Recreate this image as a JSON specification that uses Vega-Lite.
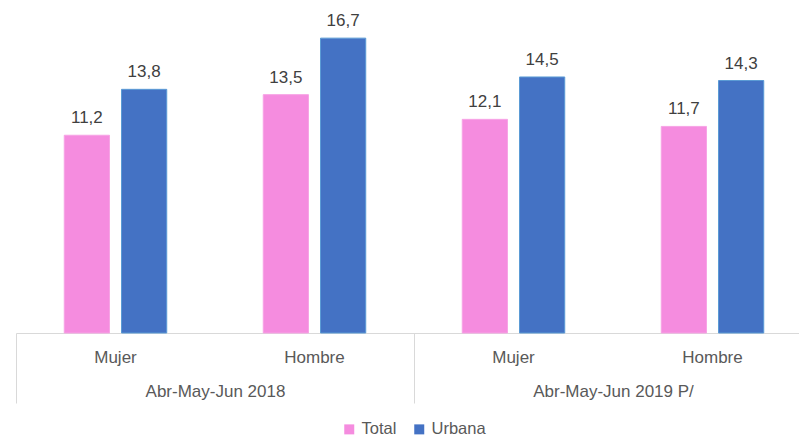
{
  "$schema": "https://vega.github.io/schema/vega-lite/v6.json",
  "width": 796,
  "height": 333,
  "padding": {"left": 15, "top": 0, "right": 0, "bottom": 0},
  "background": "white",
  "config": {
    "view": {"stroke": null},
    "font": "Liberation Sans",
    "locale": {"number": {"decimal": ",", "thousands": ".", "grouping": [3], "currency": ["", ""]}}
  },
  "data": {
    "values": [
      {"periodo": "Abr-May-Jun 2018", "grupo": "Abr-May-Jun 2018|Mujer", "serie": "Total", "valor": 11.2},
      {"periodo": "Abr-May-Jun 2018", "grupo": "Abr-May-Jun 2018|Mujer", "serie": "Urbana", "valor": 13.8},
      {"periodo": "Abr-May-Jun 2018", "grupo": "Abr-May-Jun 2018|Hombre", "serie": "Total", "valor": 13.5},
      {"periodo": "Abr-May-Jun 2018", "grupo": "Abr-May-Jun 2018|Hombre", "serie": "Urbana", "valor": 16.7},
      {"periodo": "Abr-May-Jun 2019 P/", "grupo": "Abr-May-Jun 2019 P/|Mujer", "serie": "Total", "valor": 12.1},
      {"periodo": "Abr-May-Jun 2019 P/", "grupo": "Abr-May-Jun 2019 P/|Mujer", "serie": "Urbana", "valor": 14.5},
      {"periodo": "Abr-May-Jun 2019 P/", "grupo": "Abr-May-Jun 2019 P/|Hombre", "serie": "Total", "valor": 11.7},
      {"periodo": "Abr-May-Jun 2019 P/", "grupo": "Abr-May-Jun 2019 P/|Hombre", "serie": "Urbana", "valor": 14.3}
    ]
  },
  "layer": [
    {
      "encoding": {
        "x": {
          "field": "grupo", "type": "nominal", "sort": null,
          "scale": {"paddingInner": 0.485, "paddingOuter": 0.2425},
          "axis": {
            "orient": "bottom",
            "title": null, "labelExpr": "split(datum.label, '|')[1]", "ticks": false,
            "domainColor": "#d9d9d9", "labelFontSize": 17, "labelColor": "#595959",
            "labelPadding": 16, "labelAngle": 0
          }
        },
        "xOffset": {"field": "serie", "type": "nominal", "sort": ["Total", "Urbana"], "scale": {"paddingInner": 0.21, "paddingOuter": 0}},
        "y": {"field": "valor", "type": "quantitative", "scale": {"domain": [0, 18.86], "nice": false, "zero": true}, "axis": null}
      },
      "layer": [
        {
          "mark": {"type": "bar", "strokeWidth": 1},
          "encoding": {
            "color": {
              "field": "serie", "type": "nominal",
              "scale": {"domain": ["Total", "Urbana"], "range": ["#F58CDF", "#4472C4"]},
              "legend": {
                "title": null, "orient": "none", "legendX": 325, "legendY": 421,
                "direction": "horizontal", "symbolType": "square", "symbolSize": 100,
                "symbolStrokeWidth": 0, "labelFontSize": 16.5, "labelColor": "#595959",
                "columnPadding": 14
              }
            },
            "stroke": {
              "field": "serie", "type": "nominal",
              "scale": {"domain": ["Total", "Urbana"], "range": ["#F7A3E5", "#5B9BD5"]},
              "legend": null
            }
          }
        },
        {
          "mark": {"type": "text", "baseline": "bottom", "dy": -8, "fontSize": 17, "color": "#404040"},
          "encoding": {"text": {"field": "valor", "type": "quantitative", "format": ".1f"}}
        }
      ]
    },
    {
      "mark": {"type": "tick", "opacity": 0},
      "encoding": {
        "x": {
          "field": "periodo", "type": "nominal", "sort": null,
          "scale": {"paddingInner": 0, "paddingOuter": 0},
          "axis": {
            "orient": "bottom", "offset": 0,
            "title": null, "tickBand": "extent", "tickSize": 70, "tickColor": "#d9d9d9",
            "domain": false, "labelFontSize": 17, "labelColor": "#595959",
            "labelPadding": -20, "labelAngle": 0
          }
        }
      }
    }
  ],
  "resolve": {"scale": {"x": "independent"}, "axis": {"x": "independent"}}
}
